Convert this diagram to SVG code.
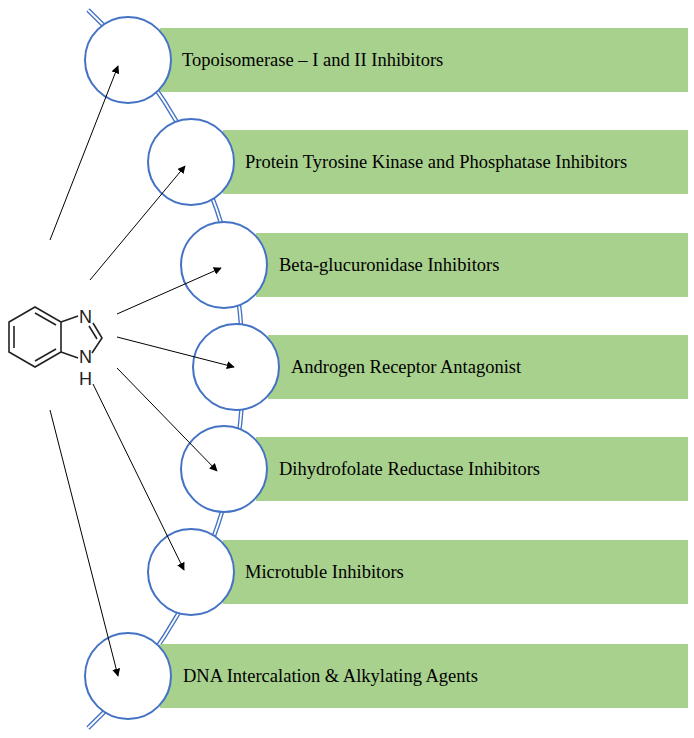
<svg xmlns="http://www.w3.org/2000/svg" width="694" height="738" viewBox="0 0 694 738">
<defs>
<marker id="ah" viewBox="0 0 10 10" refX="9" refY="5" markerWidth="8" markerHeight="8" markerUnits="userSpaceOnUse" orient="auto"><path d="M0,0 L10,5 L0,10 z" fill="#000"/></marker>
<style>
.bar{fill:#a9d18e}
.c{fill:#fff;stroke:#4472c4;stroke-width:2}
.t{font-family:"Liberation Serif",serif;font-size:18.5px;fill:#000}
.a{stroke:#000;stroke-width:1;marker-end:url(#ah)}
.m{stroke:#222;stroke-width:1.6;fill:none}
.mt{font-family:"Liberation Sans",sans-serif;font-size:18px;fill:#222}
</style>
</defs>
<g id="spine">
<path d="M88,10 A493,493 0 0 1 88,728" fill="none" stroke="#4472c4" stroke-width="4.5"/>
<path d="M88,10 A493,493 0 0 1 88,728" fill="none" stroke="#fff" stroke-width="1.8"/>
</g>
<g id="n1"><rect class="bar" x="160" y="28" width="528" height="64"/><circle class="c" cx="128" cy="60" r="43"/><text class="t" x="182" y="66">Topoisomerase – I and II Inhibitors</text></g>
<g id="n2"><rect class="bar" x="223" y="130" width="465" height="64"/><circle class="c" cx="191" cy="162" r="43"/><text class="t" x="245" y="168">Protein Tyrosine Kinase and Phosphatase Inhibitors</text></g>
<g id="n3"><rect class="bar" x="256" y="233" width="432" height="64"/><circle class="c" cx="224" cy="265" r="43"/><text class="t" x="279" y="271">Beta-glucuronidase Inhibitors</text></g>
<g id="n4"><rect class="bar" x="268" y="335" width="420" height="64"/><circle class="c" cx="236" cy="367" r="43"/><text class="t" x="291" y="373">Androgen Receptor Antagonist</text></g>
<g id="n5"><rect class="bar" x="256" y="437" width="432" height="64"/><circle class="c" cx="224" cy="469" r="43"/><text class="t" x="279" y="475">Dihydrofolate Reductase Inhibitors</text></g>
<g id="n6"><rect class="bar" x="223" y="540" width="465" height="64"/><circle class="c" cx="191" cy="572" r="43"/><text class="t" x="245" y="578">Microtuble Inhibitors</text></g>
<g id="n7"><rect class="bar" x="160" y="644" width="528" height="64"/><circle class="c" cx="128" cy="676" r="43"/><text class="t" x="183" y="682">DNA Intercalation &amp; Alkylating Agents</text></g>
<g id="molecule">
<path class="m" d="M35,307 L61,322 L61,352 L35,367 L9,352 L9,322 Z"/>
<path class="m" d="M14,326 L14,348 M35,313 L56,325 M35,361 L56,349"/>
<path class="m" d="M61,322 L78,316 M93,323 L102,338 L92,353 M89,326 L97,339 M61,352 L78,358"/>
<text class="mt" x="79" y="323">N</text>
<text class="mt" x="79" y="363">N</text>
<text class="mt" x="79" y="385">H</text>
</g>
<g id="connectors">
<line class="a" x1="50" y1="240" x2="118" y2="66"/>
<line class="a" x1="90" y1="280" x2="185" y2="166"/>
<line class="a" x1="117" y1="314" x2="221" y2="268"/>
<line class="a" x1="117" y1="337" x2="234" y2="367"/>
<line class="a" x1="117" y1="368" x2="217" y2="471"/>
<line class="a" x1="93" y1="384" x2="184" y2="570"/>
<line class="a" x1="50" y1="410" x2="118" y2="676"/>
</g>
</svg>
